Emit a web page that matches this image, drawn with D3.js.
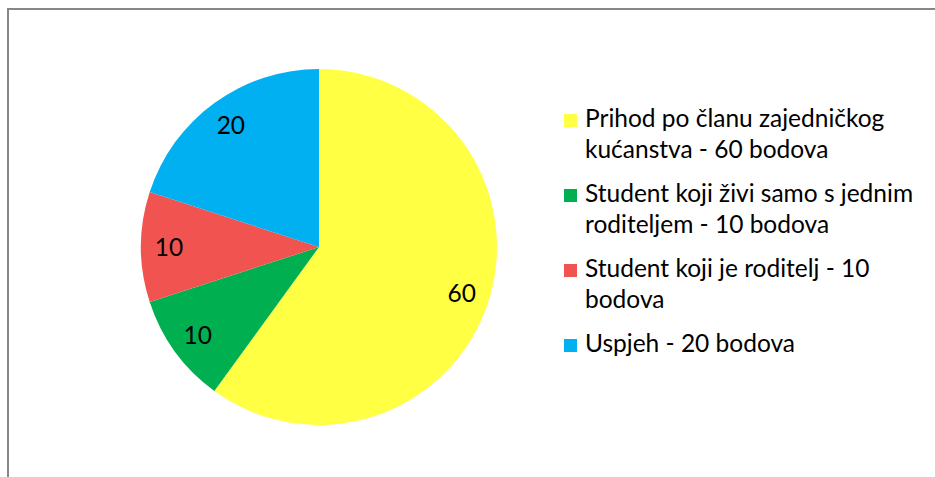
<!DOCTYPE html>
<html><head><meta charset="utf-8">
<script src="https://cdn.jsdelivr.net/npm/d3@7"></script>
<style>html,body{margin:0;padding:0;background:#fff;overflow:hidden}</style>
</head><body>
<svg id="chart" width="935" height="477"></svg>
<script>
const categories = ["Prihod po članu zajedničkog kućanstva - 60 bodova",
  "Student koji živi samo s jednim roditeljem - 10 bodova",
  "Student koji je roditelj - 10 bodova",
  "Uspjeh - 20 bodova"];
const legendLines = [["Prihod po članu zajedničkog","kućanstva - 60 bodova"],
  ["Student koji živi samo s jednim","roditeljem - 10 bodova"],
  ["Student koji je roditelj - 10","bodova"],
  ["Uspjeh - 20 bodova"]];
const values = [60, 10, 10, 20];
const colors = ["#FFFF44", "#00B050", "#F15350", "#00B0F0"];

const svg = d3.select("#chart");
const font = "Lato, 'Open Sans', sans-serif";

svg.append("rect").attr("x", 8).attr("y", 9).attr("width", 1000).attr("height", 600)
  .attr("fill", "#fff").attr("stroke", "#878787").attr("stroke-width", 2);

const cx = 319, cy = 247, R = 178;
const pie = d3.pie().sort(null).value(d => d)(values);
const arc = d3.arc().innerRadius(0).outerRadius(R);
const labelArc = d3.arc().innerRadius(150).outerRadius(150);
const g = svg.append("g").attr("transform", `translate(${cx},${cy})`);
g.selectAll("path").data(pie).join("path")
  .attr("d", arc).attr("fill", (d, i) => colors[i]);
g.selectAll("text").data(pie).join("text")
  .attr("transform", d => `translate(${labelArc.centroid(d)})`)
  .attr("text-anchor", "middle").attr("dy", "0.36em")
  .attr("font-family", font).attr("font-size", 24.5).attr("fill", "#000")
  .text(d => d.data);

const lg = svg.append("g");
legendLines.forEach((lines, i) => {
  const by = 127 + i * 75;
  lg.append("rect").attr("x", 564).attr("y", by - 13).attr("width", 13).attr("height", 13)
    .attr("fill", colors[i]);
  const t = lg.append("text").attr("x", 585).attr("y", by)
    .attr("font-family", font).attr("font-size", 24.5).attr("fill", "#000");
  lines.forEach((l, j) => t.append("tspan").attr("x", 585).attr("y", by + j * 31).text(l));
});
</script>
</body></html>
